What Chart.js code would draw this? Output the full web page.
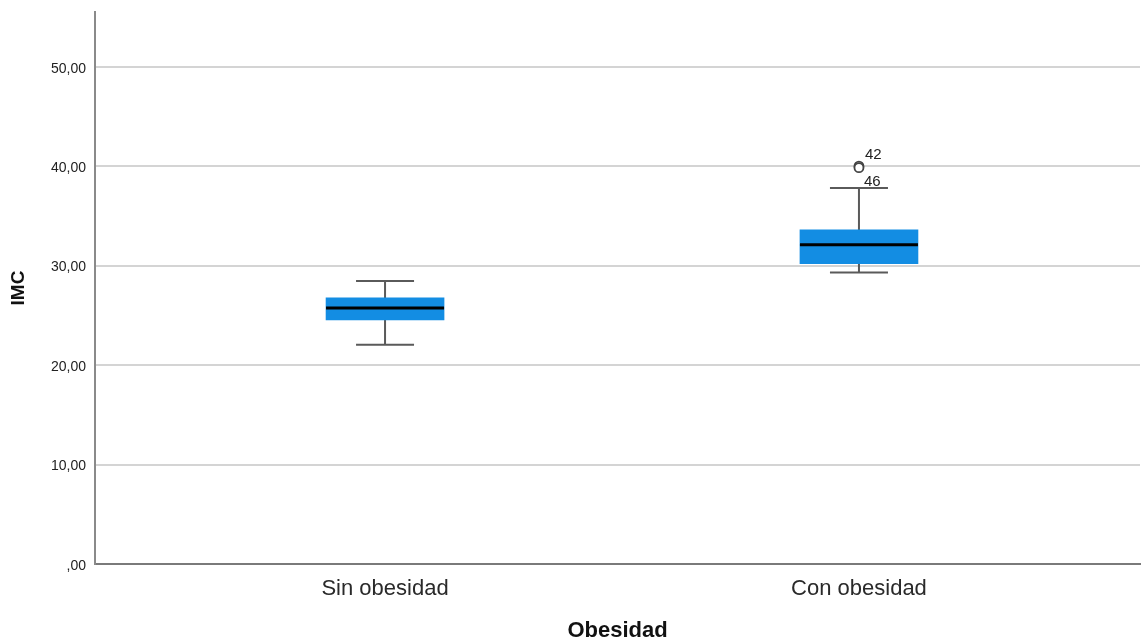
<!DOCTYPE html>
<html>
<head>
<meta charset="utf-8">
<script src="https://cdn.jsdelivr.net/npm/chart.js@4/dist/chart.umd.min.js"></script>
<style>
  body { margin: 0; background: #fff; }
  #wrap { width: 1141px; height: 642px; }
</style>
</head>
<body>
<div id="wrap"><canvas id="chart"></canvas></div>
<script>
const categories = ["Sin obesidad", "Con obesidad"];
const whiskerLow = [22.05, 29.3];
const q1 = [24.55, 30.2];
const median = [25.75, 32.1];
const q3 = [26.75, 33.6];
const whiskerHigh = [28.45, 37.8];
const outlierValues = [40.0, 39.85];
const outlierCategory = [2, 2];
const outlierLabels = ["42", "46"];
const yTicks = [0, 10, 20, 30, 40, 50];

const fmtTick = (v) => v === 0 ? ",00" : v.toFixed(2).replace(".", ",");
const fontFamily = "'Liberation Sans', Arial, sans-serif";

const boxPlugin = {
    id: "boxParts",
    beforeDatasetsDraw: (chart) => {
        const ctx = chart.ctx;
        const xs = chart.scales.x;
        const ys = chart.scales.y;
        ctx.save();
        ctx.strokeStyle = "#5a5a5a";
        ctx.lineWidth = 2;
        categories.forEach((c, i) => {
            const x = xs.getPixelForValue(i + 1);
            const capHalf = 29;
            ctx.beginPath();
            ctx.moveTo(x, ys.getPixelForValue(whiskerHigh[i]));
            ctx.lineTo(x, ys.getPixelForValue(whiskerLow[i]));
            [whiskerHigh[i], whiskerLow[i]].forEach(v => {
                const y = ys.getPixelForValue(v);
                ctx.moveTo(x - capHalf, y);
                ctx.lineTo(x + capHalf, y);
            });
            ctx.stroke();
        });
        ctx.restore();
    },
    afterDatasetsDraw: (chart) => {
        const ctx = chart.ctx;
        const xs = chart.scales.x;
        const ys = chart.scales.y;
        ctx.save();
        ctx.strokeStyle = "#000";
        ctx.lineWidth = 3;
        categories.forEach((c, i) => {
            const x = xs.getPixelForValue(i + 1);
            const y = ys.getPixelForValue(median[i]);
            ctx.beginPath();
            ctx.moveTo(x - 59, y);
            ctx.lineTo(x + 59, y);
            ctx.stroke();
        });
        ctx.fillStyle = "#222";
        ctx.font = "15px " + fontFamily;
        outlierValues.forEach((v, i) => {
            const x = xs.getPixelForValue(outlierCategory[i]);
            const y = ys.getPixelForValue(v);
            if (i === 0) {
                ctx.textBaseline = "bottom";
                ctx.fillText(outlierLabels[i], x + 6, y - 4);
            } else {
                ctx.textBaseline = "top";
                ctx.fillText(outlierLabels[i], x + 5, y + 7);
            }
        });
        ctx.restore();
    }
};

const chart = new Chart(
    document.getElementById("chart"),
    {
        type: "bar",
        plugins: [boxPlugin],
        data: {
            datasets: [
                {
                    data: categories.map((c, i) => ({ x: i + 1, y: [q1[i], q3[i]] })),
                    backgroundColor: "#138de3",
                    borderWidth: 0,
                    barThickness: 118,
                    order: 2
                },
                {
                    type: "scatter",
                    data: outlierValues.map((v, i) => ({ x: outlierCategory[i], y: v })),
                    pointRadius: 4.5,
                    backgroundColor: "#fff",
                    borderColor: "#444",
                    borderWidth: 1.8,
                    order: 1
                }
            ]
        },
        options: {
            responsive: true,
            maintainAspectRatio: false,
            animation: false,
            layout: { autoPadding: false, padding: { top: 12, right: 1, left: 0, bottom: 0 } },
            plugins: {
                legend: { display: false },
                tooltip: { enabled: false }
            },
            scales: {
                x: {
                    type: "linear",
                    offset: false,
                    min: 0.388,
                    max: 2.593,
                    afterBuildTicks: (scale) => {
                        scale.ticks = categories.map((c, i) => ({ value: i + 1 }));
                    },
                    afterFit: (scale) => {
                        scale.height = 78;
                        scale.paddingLeft = 0;
                        scale.paddingRight = 0;
                    },
                    grid: { display: false, drawTicks: false, offset: false },
                    border: { color: "#7a7a7a", width: 2 },
                    ticks: {
                        padding: 12,
                        color: "#2a2a2a",
                        font: { family: fontFamily, size: 22 },
                        callback: (v) => categories[v - 1]
                    },
                    title: {
                        display: true,
                        text: "Obesidad",
                        color: "#111",
                        padding: { top: 0, bottom: 0 },
                        font: { family: fontFamily, size: 22, weight: "bold", lineHeight: 1 }
                    }
                },
                y: {
                    min: 0,
                    max: 55.5,
                    afterBuildTicks: (scale) => {
                        scale.ticks = yTicks.map(v => ({ value: v }));
                    },
                    afterFit: (scale) => {
                        scale.width = 95;
                        scale.paddingTop = 0;
                        scale.paddingBottom = 0;
                    },
                    grid: { color: "#d4d4d4", lineWidth: 2, drawTicks: false },
                    border: { color: "#8a8a8a", width: 2 },
                    ticks: {
                        padding: 9,
                        labelOffset: 2,
                        color: "#222",
                        font: { family: fontFamily, size: 14 },
                        callback: (v) => fmtTick(v)
                    },
                    title: {
                        display: true,
                        text: "IMC",
                        color: "#111",
                        padding: { top: 7, bottom: 0 },
                        font: { family: fontFamily, size: 19, weight: "bold" }
                    }
                }
            }
        }
    }
);
</script>
</body>
</html>
